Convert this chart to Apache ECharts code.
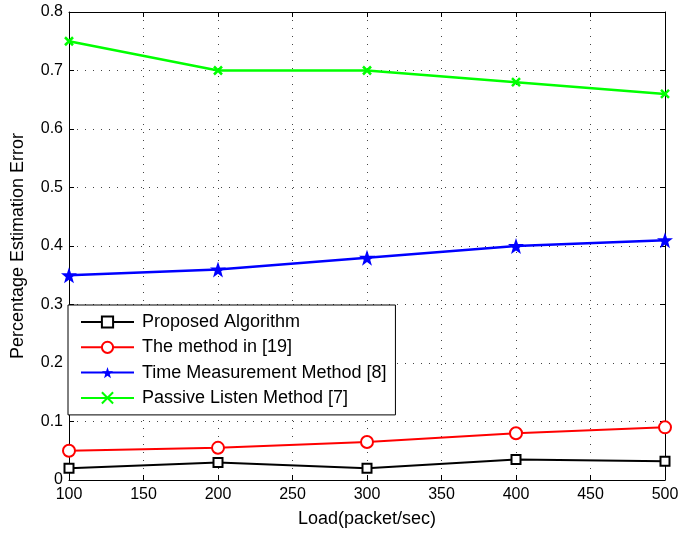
<!DOCTYPE html>
<html>
<head>
<meta charset="utf-8">
<script src="https://cdn.jsdelivr.net/npm/echarts@6/dist/echarts.min.js"></script>
<style>
  html, body { margin: 0; padding: 0; background: #fff; }
  #chart { width: 683px; height: 534px; }
</style>
</head>
<body>
<div id="chart"></div>
<script>
// Load values (packet/sec) on the x axis
const loads = [100, 200, 300, 400, 500];

// Percentage estimation error per method
const proposedAlgorithm = [0.02, 0.03, 0.02, 0.035, 0.032];
const methodIn19 = [0.05, 0.055, 0.065, 0.08, 0.09];
const timeMeasurement8 = [0.35, 0.36, 0.38, 0.40, 0.41];
const passiveListen7 = [0.75, 0.70, 0.70, 0.68, 0.66];

const seriesNames = [
  'Proposed Algorithm',
  'The method in [19]',
  'Time Measurement Method [8]',
  'Passive Listen Method [7]'
];

// Five-pointed star marker outline
function starPath() {
  const pts = [];
  for (let k = 0; k < 10; k++) {
    const r = k % 2 ? 0.4 : 1;
    const a = (-90 + 36 * k) * Math.PI / 180;
    pts.push((r * Math.cos(a) * 10).toFixed(3) + ',' + (r * Math.sin(a) * 10).toFixed(3));
  }
  return 'path://M' + pts.join('L') + 'Z';
}
const crossPath = 'path://M0,0L10,10M10,0L0,10';

const font = 'Liberation Sans, Arial, Helvetica, sans-serif';
const pairs = (ys) => loads.map((x, i) => [x, ys[i]]);

const chart = echarts.init(document.getElementById('chart'), null, { renderer: 'canvas' });

const gridLine = { show: true, lineStyle: { color: '#444', width: 1, type: [1, 7] } };
const boxLine = { show: true, onZero: false, lineStyle: { color: '#000', width: 1 } };
const inTick = { show: true, inside: true, length: 5, lineStyle: { color: '#000', width: 1 } };

chart.setOption({
  animation: false,
  backgroundColor: '#fff',
  grid: { left: 69, top: 12, right: 18, bottom: 54 },
  xAxis: [
    {
      type: 'value', min: 100, max: 500, interval: 50, position: 'bottom',
      name: 'Load(packet/sec)', nameLocation: 'middle', nameGap: 30,
      nameTextStyle: { fontFamily: font, fontSize: 18, color: '#000' },
      axisLine: boxLine, axisTick: inTick, splitLine: gridLine,
      axisLabel: { fontFamily: font, fontSize: 16, color: '#000', margin: 7 }
    },
    {
      type: 'value', min: 100, max: 500, interval: 50, position: 'top',
      axisLine: boxLine, axisTick: inTick, splitLine: { show: false },
      axisLabel: { show: false }
    }
  ],
  yAxis: [
    {
      type: 'value', min: 0, max: 0.8, interval: 0.1, position: 'left',
      name: 'Percentage Estimation Error', nameLocation: 'middle', nameGap: 42,
      nameTextStyle: { fontFamily: font, fontSize: 18, color: '#000' },
      axisLine: boxLine, axisTick: inTick, splitLine: gridLine,
      axisLabel: {
        fontFamily: font, fontSize: 16, color: '#000', margin: 6,
        formatter: (v) => (Math.round(v * 10) / 10).toString()
      }
    },
    {
      type: 'value', min: 0, max: 0.8, interval: 0.1, position: 'right',
      axisLine: boxLine, axisTick: inTick, splitLine: { show: false },
      axisLabel: { show: false }
    }
  ],
  legend: {
    orient: 'vertical',
    left: 68, top: 305,
    padding: [7, 9, 7, 12],
    itemGap: 5.3,
    itemWidth: 53, itemHeight: 14,
    backgroundColor: '#fff',
    borderColor: '#000', borderWidth: 1, borderRadius: 0,
    textStyle: { fontFamily: font, fontSize: 18, lineHeight: 20, color: '#000', padding: [0, 0, 0, 3] },
    data: seriesNames
  },
  series: [
    {
      name: seriesNames[0], type: 'line', data: pairs(proposedAlgorithm),
      symbol: 'emptyRect', symbolSize: 9, z: 4,
      lineStyle: { color: '#000', width: 2 },
      itemStyle: { color: '#000', borderColor: '#000', borderWidth: 2 }
    },
    {
      name: seriesNames[1], type: 'line', data: pairs(methodIn19),
      symbol: 'emptyCircle', symbolSize: 12, z: 3,
      lineStyle: { color: '#ff0000', width: 2 },
      itemStyle: { color: '#ff0000', borderColor: '#ff0000', borderWidth: 2 }
    },
    {
      name: seriesNames[2], type: 'line', data: pairs(timeMeasurement8),
      symbol: starPath(), symbolSize: 16, z: 3,
      lineStyle: { color: '#0000ff', width: 2.5 },
      itemStyle: { color: '#0000ff', borderColor: '#0000ff', borderWidth: 0 }
    },
    {
      name: seriesNames[3], type: 'line', data: pairs(passiveListen7),
      symbol: crossPath, symbolSize: 8, z: 3,
      lineStyle: { color: '#00ff00', width: 2.5 },
      itemStyle: { color: '#00ff00', borderColor: '#00ff00', borderWidth: 2.5 }
    }
  ]
});
</script>
</body>
</html>
